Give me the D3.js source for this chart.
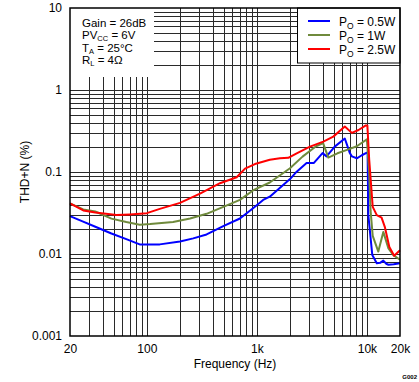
<!DOCTYPE html>
<html>
<head>
<meta charset="utf-8">
<script src="https://cdn.jsdelivr.net/npm/d3@7"></script>
<style>
  body { margin: 0; background: #fff; }
  svg { display: block; font-family: Arial, "Liberation Sans", sans-serif; }
</style>
</head>
<body>
<svg id="chart" width="419" height="382"></svg>
<script>
// ---- data ----
const xTickValues = [20, 100, 1000, 10000, 20000];
const xTickLabels = ["20", "100", "1k", "10k", "20k"];
const yTickValues = [0.001, 0.01, 0.1, 1, 10];
const yTickLabels = ["0.001", "0.01", "0.1", "1", "10"];

const seriesNames = ["0.5W", "1W", "2.5W"];

const blueFreq = [20, 26, 34, 47.6, 65, 86, 131, 200, 264, 349, 495, 701, 929, 1140, 1310, 2000, 2300, 2830, 3300, 3950, 4300, 5100, 6300, 7000, 7300, 8100, 9000, 10000, 10150, 10300, 11200, 12300, 13200, 14100, 15000, 15700, 17500, 20000];
const blueThd  = [0.029, 0.025, 0.0215, 0.0178, 0.0152, 0.0131, 0.0131, 0.0142, 0.0155, 0.0173, 0.0219, 0.0271, 0.0364, 0.0456, 0.05, 0.082, 0.101, 0.129, 0.129, 0.17, 0.155, 0.204, 0.256, 0.17, 0.155, 0.147, 0.16, 0.172, 0.172, 0.03, 0.0097, 0.0077, 0.0078, 0.0083, 0.0076, 0.0074, 0.0075, 0.0077];

const greenFreq = [20, 26.4, 34, 47.6, 65, 86, 107, 173, 247, 349, 495, 701, 929, 1310, 2000, 2600, 3450, 4000, 4460, 5400, 6600, 8100, 10000, 10500, 10800, 11300, 12700, 14100, 15700, 17400, 20000];
const greenThd  = [0.0415, 0.035, 0.033, 0.027, 0.0245, 0.0228, 0.0232, 0.0245, 0.0271, 0.0309, 0.0375, 0.0457, 0.06, 0.0744, 0.111, 0.154, 0.206, 0.225, 0.15, 0.169, 0.186, 0.206, 0.25, 0.096, 0.034, 0.0166, 0.0107, 0.0186, 0.0117, 0.0097, 0.0085];

const redFreq = [20, 26.4, 34, 53, 70, 100, 131, 200, 304, 462, 655, 780, 960, 1310, 1620, 1930, 2300, 3040, 4020, 4950, 6300, 7300, 8400, 9700, 10100, 10500, 11300, 12300, 13600, 14600, 16000, 17700, 20000];
const redThd  = [0.0415, 0.034, 0.032, 0.0298, 0.0304, 0.0315, 0.0355, 0.042, 0.0545, 0.073, 0.0862, 0.11, 0.125, 0.141, 0.147, 0.149, 0.169, 0.204, 0.235, 0.27, 0.358, 0.30, 0.325, 0.368, 0.37, 0.141, 0.0375, 0.0298, 0.0278, 0.0211, 0.0122, 0.0095, 0.0111];

const conditionLines = [
  ["Gain = 26dB", null, ""],
  ["PV", "CC", " = 6V"],
  ["T", "A", " = 25°C"],
  ["R", "L", " = 4Ω"]
];

// ---- layout ----
const colors = ["#0000ff", "#6f8a3c", "#ff0000"];
const L = 70, R = 400, T = 8, B = 336;
const svg = d3.select("#chart");

const x = d3.scaleLog().domain([20, 20000]).range([L, R]);
const y = d3.scaleLog().domain([0.001, 10]).range([B, T]);

// grid values
const xGrid = [];
[10, 100, 1000, 10000].forEach(d => { for (let k = 1; k <= 9; k++) { const v = d * k; if (v > 20 && v < 20000) xGrid.push(v); } });
const yGrid = [];
[0.001, 0.01, 0.1, 1].forEach(d => { for (let k = 1; k <= 9; k++) { const v = d * k; if (v > 0.001 && v < 10) yGrid.push(+v.toPrecision(3)); } });

const grid = svg.append("g").attr("stroke", "#2a2a2a").attr("stroke-width", 1).attr("shape-rendering", "crispEdges");
grid.selectAll("line.v").data(xGrid).join("line")
  .attr("x1", d => Math.round(x(d)) + 0.5).attr("x2", d => Math.round(x(d)) + 0.5)
  .attr("y1", T).attr("y2", B);
grid.selectAll("line.h").data(yGrid).join("line")
  .attr("y1", d => Math.round(y(d)) + 0.5).attr("y2", d => Math.round(y(d)) + 0.5)
  .attr("x1", L).attr("x2", R);

// condition text box (white background)
svg.append("rect").attr("x", L).attr("y", T).attr("width", 84).attr("height", 69).attr("fill", "#fff");
const cond = svg.append("g").attr("font-size", 11.5).attr("fill", "#000");
conditionLines.forEach((c, i) => {
  const t = cond.append("text").attr("x", 82).attr("y", 26.5 + i * 12.6);
  t.append("tspan").text(c[0]);
  if (c[1]) t.append("tspan").attr("font-size", 7.5).attr("dy", 2).text(c[1]);
  if (c[2]) t.append("tspan").attr("dy", c[1] ? -2 : 0).text(c[2]);
});

// legend
const lg = svg.append("g");
lg.append("rect").attr("x", 297.5).attr("y", T).attr("width", R - 297.5).attr("height", 55)
  .attr("fill", "#fff").attr("stroke", "#000").attr("stroke-width", 1);
seriesNames.forEach((n, i) => {
  const ly = 21 + i * 14;
  lg.append("line").attr("x1", 308).attr("x2", 330).attr("y1", ly).attr("y2", ly)
    .attr("stroke", colors[i]).attr("stroke-width", 2);
  const t = lg.append("text").attr("x", 339).attr("y", ly + 5).attr("font-size", 12);
  t.append("tspan").text("P");
  t.append("tspan").attr("font-size", 8.5).attr("dy", 2.5).text("O");
  t.append("tspan").attr("dy", -2.5).text(" = " + n);
});

// curves
const line = d3.line().x(d => x(d[0])).y(d => y(d[1]));
const series = [
  d3.zip(blueFreq, blueThd),
  d3.zip(greenFreq, greenThd),
  d3.zip(redFreq, redThd)
];
svg.append("g").selectAll("path").data(series).join("path")
  .attr("d", line).attr("fill", "none")
  .attr("stroke", (d, i) => colors[i]).attr("stroke-width", 2).attr("stroke-linejoin", "round");

// frame
svg.append("rect").attr("x", L).attr("y", T).attr("width", R - L).attr("height", B - T)
  .attr("fill", "none").attr("stroke", "#000").attr("stroke-width", 1.5);

// axes (labels only)
const xAxis = d3.axisBottom(x).tickValues(xTickValues).tickFormat((d, i) => xTickLabels[i]).tickSize(0).tickPadding(8);
const gx = svg.append("g").attr("transform", `translate(0,${B})`).call(xAxis);
gx.select(".domain").remove();
gx.selectAll("text").attr("font-size", 12).attr("fill", "#000").attr("font-family", "Arial, 'Liberation Sans', sans-serif");

const yAxis = d3.axisLeft(y).tickValues(yTickValues).tickFormat((d, i) => yTickLabels[i]).tickSize(0).tickPadding(8);
const gy = svg.append("g").attr("transform", `translate(${L},0)`).call(yAxis);
gy.select(".domain").remove();
gy.selectAll("text").attr("font-size", 12).attr("fill", "#000").attr("font-family", "Arial, 'Liberation Sans', sans-serif");

// axis titles
svg.append("text").attr("x", (L + R) / 2).attr("y", 368).attr("text-anchor", "middle")
  .attr("font-size", 12).text("Frequency (Hz)");
svg.append("text").attr("transform", `translate(29,${(T + B) / 2}) rotate(-90)`).attr("text-anchor", "middle")
  .attr("font-size", 12).text("THD+N (%)");
svg.append("text").attr("x", 417).attr("y", 379).attr("text-anchor", "end")
  .attr("font-size", 6).attr("font-weight", "bold").text("G002");
</script>
</body>
</html>
